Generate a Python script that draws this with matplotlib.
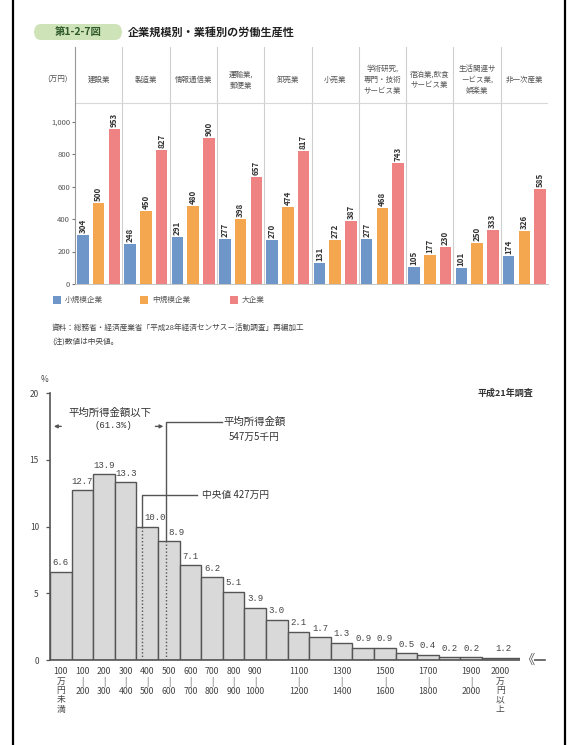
import matplotlib
matplotlib.use("Agg")
import matplotlib.pyplot as plt
from matplotlib.patches import Rectangle, FancyBboxPatch
from matplotlib.lines import Line2D
import numpy as np

plt.rcParams["font.family"] = ["Noto Sans CJK JP", "DejaVu Sans"]

# 上段: 企業規模別・業種別の労働生産性 (万円)
industries = ["建設業", "製造業", "情報通信業", "運輸業,\n郵便業", "卸売業", "小売業",
              "学術研究,\n専門・技術\nサービス業", "宿泊業,飲食\nサービス業",
              "生活関連サ\nービス業,\n娯楽業", "非一次産業"]
small_firms = [304, 248, 291, 277, 270, 131, 277, 105, 101, 174]
medium_firms = [500, 450, 480, 398, 474, 272, 468, 177, 250, 326]
large_firms = [953, 827, 900, 657, 817, 387, 743, 230, 333, 585]
series_names = ["小規模企業", "中規模企業", "大企業"]
series_colors = ["#6f96c8", "#f5a74f", "#ef8282"]

# 下段: 所得金額階級別 (%)
income_labels = ["100\n万\n円\n未\n満", "100\n|\n200", "200\n|\n300", "300\n|\n400", "400\n|\n500",
                 "500\n|\n600", "600\n|\n700", "700\n|\n800", "800\n|\n900", "900\n|\n1000",
                 "", "1100\n|\n1200", "", "1300\n|\n1400", "", "1500\n|\n1600", "",
                 "1700\n|\n1800", "", "1900\n|\n2000"]
income_share = [6.6, 12.7, 13.9, 13.3, 10.0, 8.9, 7.1, 6.2, 5.1, 3.9,
                3.0, 2.1, 1.7, 1.3, 0.9, 0.9, 0.5, 0.4, 0.2, 0.2]
over2000_label = "2000\n万\n円\n以\n上"
over2000_share = 1.2
median_pos = 4.27   # 427万円
mean_pos = 5.38     # 547万5千円 (図上の位置)

W, H = 573, 745
fig = plt.figure(figsize=(W / 100, H / 100), dpi=100)


def px_axes(l, t, r, b):
    return fig.add_axes([l / W, 1 - b / H, (r - l) / W, (b - t) / H])


def fx(x):
    return x / W


def fy(y):
    return 1 - y / H


# 外枠
fig.add_artist(Line2D([fx(13), fx(13)], [0, 1], color="black", lw=1.6))
fig.add_artist(Line2D([fx(565), fx(565)], [0, 1], color="black", lw=1.6))

# タイトル
fig.add_artist(FancyBboxPatch((fx(34), fy(40)), fx(88), fy(24) - fy(40),
                              boxstyle="round,pad=0,rounding_size=0.012",
                              fc="#cfe3b8", ec="none"))
fig.text(fx(78), fy(32), "第1-2-7図", fontsize=7.5, fontweight="bold",
         color="#2f5a2a", ha="center", va="center")
fig.text(fx(128), fy(32), "企業規模別・業種別の労働生産性", fontsize=8,
         fontweight="bold", color="#222222", ha="left", va="center")

# ---------- 上段グラフ ----------
ax1 = px_axes(75, 47, 548, 284)
ppu = 0.1625
x = np.arange(len(industries))
bw = 0.245
for k, (vals, col) in enumerate(zip([small_firms, medium_firms, large_firms], series_colors)):
    pos = x + (k - 1) * 0.333
    ax1.bar(pos, vals, width=bw, color=col, zorder=3)
    for p, v in zip(pos, vals):
        ax1.text(p, v + 12, str(v), rotation=90, ha="center", va="bottom",
                 fontsize=5.8, fontweight="bold", color="#333333")

ax1.set_xlim(-0.5, len(industries) - 0.5)
ax1.set_ylim(0, 237 / ppu)
for b in x[1:] - 0.5:
    ax1.axvline(b, color="#cfcfcf", lw=0.8, zorder=1)
ax1.axhline((284 - 103) / ppu, color="#d8d8d8", lw=0.8)
for i, name in enumerate(industries):
    ax1.text(i, (284 - 80) / ppu, name, ha="center", va="center", fontsize=5.4,
             color="#555555", linespacing=1.5)
ax1.text(-0.86, (284 - 80) / ppu, "(万円)", ha="center", va="center", fontsize=5.5,
         color="#555555", clip_on=False)
ax1.set_yticks([0, 200, 400, 600, 800, 1000])
ax1.set_yticklabels(["0", "200", "400", "600", "800", "1,000"])
ax1.tick_params(axis="y", length=2, width=0.8, color="#777777", labelsize=5.5,
                labelcolor="#555555", pad=1.5)
ax1.set_xticks([])
for s in ["top", "right"]:
    ax1.spines[s].set_visible(False)
ax1.spines["left"].set_color("#999999")
ax1.spines["left"].set_linewidth(0.8)
ax1.spines["bottom"].set_color("#bbbbbb")
ax1.spines["bottom"].set_linewidth(0.6)

# 凡例
for lx, name, col in zip([53, 140, 230], series_names, series_colors):
    fig.add_artist(Rectangle((fx(lx), fy(304)), fx(8), fy(296) - fy(304), fc=col, ec="none"))
    fig.text(fx(lx + 12), fy(300), name, fontsize=5.5, color="#555555", ha="left", va="center")

fig.text(fx(52), fy(328), "資料：総務省・経済産業省「平成28年経済センサス－活動調査」再編加工",
         fontsize=5.5, color="#444444", ha="left", va="center")
fig.text(fx(52), fy(342), "(注)数値は中央値。", fontsize=5.5, color="#444444",
         ha="left", va="center")

# ---------- 下段グラフ ----------
xu, yu = 21.6, 13.35
ax2 = px_axes(50, 660 - 21 * yu, 50 + 22.9 * xu, 660)
bins = np.arange(len(income_share))
ax2.bar(bins, income_share, width=1.0, align="edge", color="#d9d9d9",
        edgecolor="#555555", linewidth=1.0, zorder=2)
# 2000万円以上 (幅2階級, 高さは圧縮表示)
ax2.bar(len(income_share), over2000_share / 10, width=2.0, align="edge", color="#d9d9d9",
        edgecolor="#555555", linewidth=1.0, zorder=2)

mono = ["Liberation Mono", "DejaVu Sans Mono"]
for b, v in zip(bins, income_share):
    # 中央値・平均の線と重なる階級はラベルを右へずらす
    shift = 0.35 if (b <= median_pos < b + 1 or b <= mean_pos < b + 1) else 0.0
    ax2.text(b + 0.5 + shift, v + 0.35, f"{v:.1f}", ha="center", va="bottom", fontsize=6.5,
             family=mono, color="#444444")
ax2.text(len(income_share) + 1, 0.5, f"{over2000_share:.1f}", ha="center", va="bottom",
         fontsize=6.5, family=mono, color="#444444")

for b, lab in enumerate(income_labels):
    if lab:
        ax2.text(b + 0.5, -0.55, lab, ha="center", va="top", fontsize=6.3,
                 color="#444444", linespacing=1.05, clip_on=False)
ax2.text(len(income_share) + 0.85, -0.55, over2000_label, ha="center", va="top",
         fontsize=6.3, color="#444444", linespacing=1.05, clip_on=False)

ax2.set_xlim(0, 22.9)
ax2.set_ylim(0, 21)
ax2.set_xticks([])
ax2.set_yticks([0, 5, 10, 15, 20])
ax2.tick_params(axis="y", length=3, width=0.9, color="#555555", labelsize=6,
                labelcolor="#444444", pad=5)
for s in ["top", "right"]:
    ax2.spines[s].set_visible(False)
ax2.spines["left"].set_bounds(0, 20)
for s in ["left", "bottom"]:
    ax2.spines[s].set_color("#555555")
    ax2.spines[s].set_linewidth(1.2)
ax2.text(-0.25, 21, "%", ha="center", va="center", fontsize=6, color="#444444", clip_on=False)
ax2.text(22.4, 20, "平成21年調査", ha="right", va="center", fontsize=6.5, color="#333333",
         fontweight="bold")
ax2.text(22.1, 0, "《", ha="center", va="center", fontsize=9.5, color="#555555",
         bbox=dict(fc="white", ec="none", pad=0.2), zorder=5)

lc = "#555555"
# 中央値
ax2.plot([median_pos, median_pos], [0, 10.0], color=lc, lw=1.0, ls=(0, (1, 1.5)), zorder=4)
ax2.plot([median_pos, median_pos, 6.8], [10.0, 12.36, 12.36], color=lc, lw=1.0, zorder=4)
ax2.text(7.05, 12.36, "中央値 427万円", ha="left", va="center", fontsize=7, color="#333333")
# 平均
ax2.plot([mean_pos, mean_pos], [0, 8.9], color=lc, lw=1.0, ls=(0, (1, 1.5)), zorder=4)
ax2.plot([mean_pos, mean_pos, 7.95], [8.9, 17.85, 17.85], color=lc, lw=1.0, zorder=4)
ax2.text(9.45, 17.85, "平均所得金額", ha="center", va="center", fontsize=7.5, color="#333333")
ax2.text(9.45, 16.7, "547万5千円", ha="center", va="center", fontsize=7, color="#333333")
# 平均以下
ax2.text(2.78, 18.55, "平均所得金額以下", ha="center", va="center", fontsize=7.5, color="#333333")
ax2.text(2.95, 17.55, "(61.3%)", ha="center", va="center", fontsize=6.5, family=mono,
         color="#333333")
ax2.annotate("", xy=(0.05, 17.5), xytext=(0.65, 17.5),
             arrowprops=dict(arrowstyle="-|>", color=lc, lw=1.0, mutation_scale=5))
ax2.annotate("", xy=(mean_pos, 17.5), xytext=(4.75, 17.5),
             arrowprops=dict(arrowstyle="-|>", color=lc, lw=1.0, mutation_scale=5))

fig.savefig("out.png", dpi=100)
